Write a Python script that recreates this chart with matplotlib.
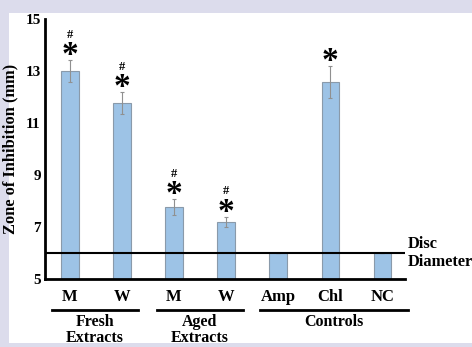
import matplotlib.pyplot as plt
from matplotlib.patches import Rectangle

# data
labels = ["M", "W", "M", "W", "Amp", "Chl", "NC"]
values = [13.0, 11.77, 7.77, 7.19, 6.0, 12.58, 6.0]
errors = [0.42, 0.42, 0.30, 0.20, 0.0, 0.60, 0.0]
stars = [True, True, True, True, False, True, False]
hashes = [True, True, True, True, False, False, False]
groups = ["Fresh\nExtracts", "Aged\nExtracts", "Controls"]
group_spans = [(-0.35, 1.31), (1.67, 3.33), (3.65, 6.5)]
disc = 6.0

serif = "Liberation Serif"
W, H = 472, 347

fig = plt.figure(figsize=(W / 100, H / 100), dpi=100)
fig.patch.set_facecolor("#dcdcec")
fig.patches.append(Rectangle((9 / W, 4 / H), 1, 330 / H, transform=fig.transFigure,
                             facecolor="white", edgecolor="none", zorder=-5))

ax = fig.add_axes([45 / W, 1 - 279 / H, 360 / W, 260 / H])
ax.set_facecolor("none")
x = list(range(len(labels)))
ax.bar(x, values, width=0.33, bottom=0, color="#9dc3e6", edgecolor="#8a9aaa",
       linewidth=0.8, zorder=2)
ax.errorbar(x, values, yerr=errors, fmt="none", ecolor="#909090", elinewidth=0.8,
            capsize=1.5, capthick=0.8, zorder=3)
ax.axhline(disc, color="black", linewidth=1.5, zorder=4)

ax.set_ylim(5, 15)
ax.set_xlim(-0.48, 6.44)
ax.set_yticks([5, 7, 9, 11, 13, 15])
ax.set_xticks(x)
ax.set_xticklabels(labels)
ax.tick_params(length=0)
for t in ax.get_xticklabels():
    t.set_fontfamily(serif)
    t.set_fontweight("bold")
    t.set_fontsize(12)
for t in ax.get_yticklabels():
    t.set_fontfamily(serif)
    t.set_fontweight("bold")
    t.set_fontsize(11)
ax.tick_params(axis="x", pad=7)
ax.tick_params(axis="y", pad=3)

for s in ["top", "right"]:
    ax.spines[s].set_visible(False)
ax.spines["left"].set_linewidth(2)
ax.spines["bottom"].set_linewidth(2)

ax.set_ylabel("Zone of Inhibition (mm)", fontfamily=serif, fontweight="bold",
              fontsize=11.8, labelpad=5)

for i in x:
    top = values[i] + errors[i]
    if stars[i]:
        ax.annotate("*", (i, top), xytext=(0, -8), textcoords="offset points",
                    ha="center", va="bottom", fontsize=24, fontweight="bold",
                    fontfamily=serif, zorder=5)
    if hashes[i]:
        ax.annotate("#", (i, top), xytext=(0, 14), textcoords="offset points",
                    ha="center", va="bottom", fontsize=9, fontweight="bold",
                    fontfamily=serif)

tr = ax.get_xaxis_transform()
for name, (a, b) in zip(groups, group_spans):
    ax.plot([a, b], [-0.119, -0.119], color="black", linewidth=2, transform=tr,
            clip_on=False)
    ax.text((a + b) / 2, -0.135, name, transform=tr, ha="center", va="top",
            fontfamily=serif, fontweight="bold", fontsize=11.5, linespacing=1.0)

ax.text(1.008, disc, "Disc\nDiameter", transform=ax.get_yaxis_transform(),
        ha="left", va="center", fontfamily=serif, fontweight="bold", fontsize=11.8,
        linespacing=1.15, clip_on=False)

fig.savefig("out.png", dpi=100, facecolor=fig.get_facecolor())
